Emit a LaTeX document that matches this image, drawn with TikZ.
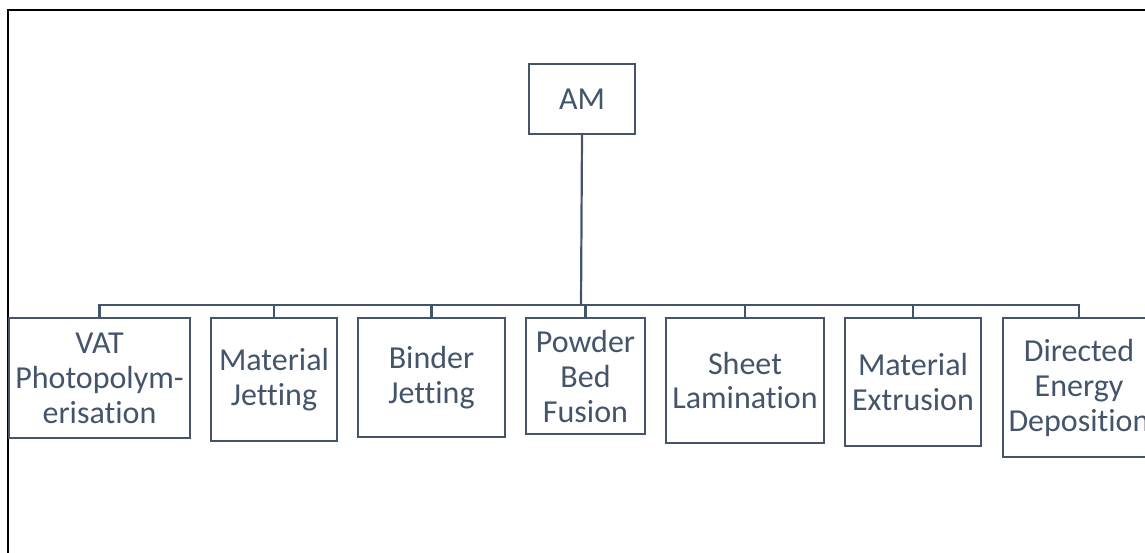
\documentclass[tikz,border=0pt]{standalone}
\usepackage{fontspec}
\setmainfont{Carlito}[Ligatures={NoCommon}]
\definecolor{slate}{HTML}{44546A}
\begin{document}
\begin{tikzpicture}[x=1pt,y=-1pt,
  box/.style={draw=slate, line width=2pt, fill=white, text=slate, align=center,
    anchor=north west, inner sep=0pt, font=\fontsize{32}{35}\selectfont},
  conn/.style={draw=slate, line width=2.2pt}]
\useasboundingbox (0,0) rectangle (1145,552);
\clip (0,0) rectangle (1145,552);
\draw[black, line width=1.8pt] (8,10) rectangle (1160,570);
% nodes
\node[box, minimum width=106pt, minimum height=70pt] (am) at (528,63) {AM};
\node[box, minimum width=181pt, minimum height=120pt] (vat) at (8,317) {VAT\\Photopolym-\\erisation};
\node[box, minimum width=126pt, minimum height=123pt] (mj) at (210,317) {Material\\Jetting};
\node[box, minimum width=147pt, minimum height=119pt] (bj) at (357,317) {Binder\\Jetting};
\node[box, minimum width=119pt, minimum height=116pt] (pbf) at (525,317) {Powder\\Bed\\Fusion};
\node[box, minimum width=158pt, minimum height=125pt] (sl) at (665,317) {Sheet\\Lamination};
\node[box, minimum width=136pt, minimum height=128pt] (me) at (844,317) {Material\\Extrusion};
\node[box, minimum width=152pt, minimum height=139pt] (ded) at (1002,317) {Directed\\Energy\\Deposition};
% connectors
\coordinate (bus) at (581,305);
\draw[conn] (am.south) -- (bus);
\foreach \c in {vat,mj,bj,pbf,sl,me,ded}{
  \draw[conn] (bus) -| (\c.north);
}
\end{tikzpicture}
\end{document}
